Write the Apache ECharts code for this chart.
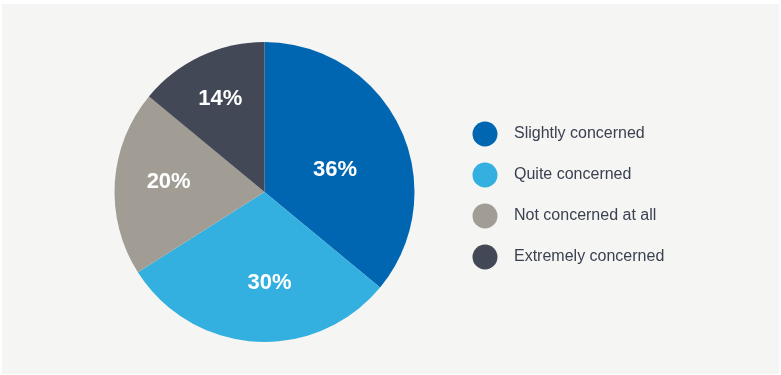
<!DOCTYPE html>
<html>
<head>
<meta charset="utf-8">
<script src="https://cdn.jsdelivr.net/npm/echarts@6/dist/echarts.min.js"></script>
<style>
html,body{margin:0;padding:0;background:#ffffff;}
#bg{position:absolute;left:2px;top:4px;width:777px;height:370px;background:#f5f5f3;}
#chart{position:absolute;left:0;top:0;width:781px;height:375px;}
</style>
</head>
<body>
<div id="bg"></div>
<div id="chart"></div>
<script>
const categories = ['Slightly concerned', 'Quite concerned', 'Not concerned at all', 'Extremely concerned'];
const values = [36, 30, 20, 14];
const colors = ['#0066b2', '#33b0df', '#a29d94', '#434856'];
// label nudges from the default inner position (layout, not data)
const labelNudge = [[0, 11], [10, 13], [-18, -5], [-11, -22]];

const chart = echarts.init(document.getElementById('chart'), null, {renderer: 'canvas'});
chart.setOption({
  animation: false,
  color: colors,
  legend: {
    orient: 'vertical',
    left: 467.5,
    top: 116.5,
    itemWidth: 25,
    itemHeight: 25,
    itemGap: 16,
    icon: 'circle',
    data: categories,
    textStyle: {
      fontFamily: '"Liberation Sans", Arial, sans-serif',
      fontSize: 16,
      color: '#3b4150',
      padding: [0, 0, 0, 11.5]
    },
    selectedMode: false
  },
  series: [{
    type: 'pie',
    center: [264.5, 192],
    radius: [0, 150],
    startAngle: 90,
    clockwise: true,
    silent: true,
    data: categories.map((c, i) => ({name: c, value: values[i]})),
    label: {
      show: true,
      position: 'inner',
      formatter: p => p.value + '%',
      color: '#ffffff',
      fontFamily: '"Liberation Sans", Arial, sans-serif',
      fontWeight: 'bold',
      fontSize: 22
    },
    labelLine: {show: false},
    labelLayout: p => ({dx: labelNudge[p.dataIndex][0], dy: labelNudge[p.dataIndex][1]}),
    itemStyle: {borderWidth: 0}
  }]
});
</script>
</body>
</html>
